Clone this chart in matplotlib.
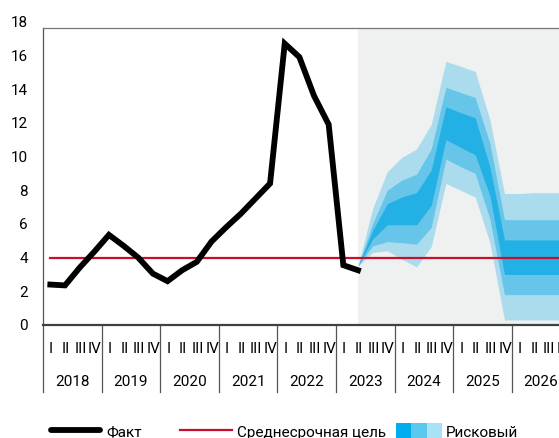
import matplotlib
matplotlib.use("Agg")
import matplotlib.pyplot as plt
from matplotlib.lines import Line2D
from matplotlib.patches import Rectangle
import numpy as np

plt.rcParams['font.family'] = ['Roboto', 'DejaVu Sans']

# ---------------- data ----------------
years = ["2018", "2019", "2020", "2021", "2022", "2023", "2024", "2025", "2026"]
quarter_labels = ["I", "II", "III", "IV"]
yticks = [0, 2, 4, 6, 8, 10, 12, 14, 16, 18]

# Fact: 2018Q1 .. 2023Q2
fact = [2.4, 2.35, 3.4, 4.35, 5.35, 4.7, 4.0, 3.05, 2.6, 3.25, 3.75, 4.95,
        5.8, 6.6, 7.5, 8.4, 16.7, 15.9, 13.6, 11.9, 3.55, 3.25]
target = 4.0

# Fan (risk scenario bands): 2023Q2 .. 2026Q4+
fan_start = 21  # quarter index of 2023Q2
out_lo = [3.5, 4.3, 4.4, 3.9, 3.45, 4.65, 8.4, 8.0, 7.6, 4.9, 0.3, 0.3, 0.3, 0.3, 0.3]
mid_lo = [3.5, 4.7, 4.95, 4.88, 4.8, 5.8, 9.85, 9.4, 9.0, 6.3, 1.8, 1.8, 1.8, 1.8, 1.8]
in_lo  = [3.5, 5.1, 5.95, 5.95, 5.95, 7.1, 11.0, 10.55, 10.1, 7.7, 3.0, 3.0, 3.0, 3.0, 3.0]
in_hi  = [3.5, 5.6, 7.2, 7.6, 7.85, 9.2, 12.95, 12.6, 12.3, 9.4, 5.05, 5.05, 5.05, 5.05, 5.05]
mid_hi = [3.5, 6.0, 8.0, 8.6, 8.95, 10.45, 14.1, 13.8, 13.5, 10.8, 6.25, 6.25, 6.25, 6.25, 6.25]
out_hi = [3.5, 6.9, 9.1, 9.95, 10.45, 11.9, 15.65, 15.35, 15.05, 12.2, 7.8, 7.8, 7.85, 7.85, 7.85]

# ---------------- styles ----------------
C_IN = "#23b0e4"
C_MID = "#66c5e8"
C_OUT = "#aadcee"
C_BG = "#eff0f0"
C_RED = "#c8102e"
FS = 11

W, H = 559, 438
fig = plt.figure(figsize=(W / 100, H / 100), dpi=100)
y0_px, unit = 325.0, 16.85
top_px = y0_px - 18 * unit
ax = fig.add_axes([43 / W, (H - y0_px) / H, 516 / W, (y0_px - top_px) / H])
qw = 516 / 14.65
ax.set_xlim(0, qw)
ax.set_ylim(0, 18)
frame_top = 17.64

x_fact = np.arange(len(fact)) + 0.5
x_fan = np.arange(fan_start, fan_start + len(out_lo)) + 0.5

ax.axvspan(fan_start + 0.5, 60, ymin=0, ymax=frame_top / 18, color=C_BG, lw=0, zorder=0)
ax.fill_between(x_fan, out_lo, out_hi, color=C_OUT, lw=0, zorder=1)
ax.fill_between(x_fan, mid_lo, mid_hi, color=C_MID, lw=0, zorder=2)
ax.fill_between(x_fan, in_lo, in_hi, color=C_IN, lw=0, zorder=3)
ax.plot([0.5, 60], [target, target], color=C_RED, lw=1.6, zorder=4)
ax.plot(x_fact, fact, color="black", lw=4.2, zorder=5, solid_joinstyle="miter")

# frame
for s in ["top", "right"]:
    ax.spines[s].set_visible(False)
ax.spines["left"].set_bounds(0, frame_top)
ax.spines["left"].set_color("#555555")
ax.spines["left"].set_linewidth(0.9)
ax.spines["bottom"].set_color("#404040")
ax.spines["bottom"].set_linewidth(1.6)
ax.plot([0, 60], [frame_top, frame_top], color="#777777", lw=0.9, clip_on=False, zorder=6)

ax.set_yticks(yticks)
ax.set_yticklabels([str(v) for v in yticks], fontsize=FS)
ax.tick_params(axis="y", length=0, pad=11)
ax.set_xticks([])

xt = ax.get_xaxis_transform()
ax_h = y0_px - top_px
for k, yr in enumerate(years):
    x0 = 4 * k
    ax.plot([x0, x0], [0, -(392 - y0_px) / ax_h], color="#555555", lw=0.9,
            transform=xt, clip_on=False)
    ax.text(x0 + 2, -(382 - y0_px) / ax_h, yr, ha="center", va="center",
            fontsize=FS, transform=xt, clip_on=False)
    for q, ql in enumerate(quarter_labels):
        ax.text(x0 + q + 0.55, -(349 - y0_px) / ax_h, ql, ha="center", va="center",
                fontsize=FS, transform=xt, clip_on=False)

# legend (manual, bottom)
def fx(px):
    return px / W
def fy(py):
    return (H - py) / H

fig.add_artist(Line2D([fx(51), fx(100)], [fy(430), fy(430)], color="black", lw=4.2,
                      solid_capstyle="round"))
fig.text(fx(106), fy(433), "Факт", fontsize=FS, va="center", ha="left")
fig.add_artist(Line2D([fx(180), fx(232)], [fy(430), fy(430)], color=C_RED, lw=1.6))
fig.text(fx(237), fy(433), "Среднесрочная цель", fontsize=FS, va="center", ha="left")
for j, c in enumerate(["#00aeef", "#5bc8f0", "#a9e1f6"]):
    fig.add_artist(Rectangle((fx(396 + j * 15.3), fy(440)), 15.3 / W, 17.5 / H,
                             color=c, lw=0, transform=fig.transFigure))
fig.text(fx(446), fy(433), "Рисковый", fontsize=FS, va="center", ha="left")

fig.savefig("out.png", dpi=100)
